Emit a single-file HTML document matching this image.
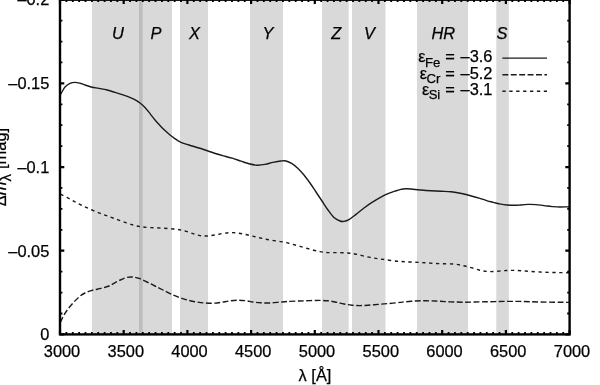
<!DOCTYPE html>
<html><head><meta charset="utf-8"><title>plot</title>
<style>
html,body{margin:0;padding:0;background:#fff;}
body{width:600px;height:385px;overflow:hidden;}
svg{display:block;will-change:transform;}
text{font-family:"Liberation Sans",sans-serif;font-size:16.4px;fill:#000;stroke:#000;stroke-width:0.25px;}
.i{font-style:italic;}
.s{font-size:13.1px;}
</style></head><body>
<svg width="600" height="385" viewBox="0 0 600 385">
<rect width="600" height="385" fill="#fff"/>
<g fill="#d9d9d9">
<rect x="91.9" y="-1" width="80.1" height="335.5"/>
<rect x="180" y="-1" width="28" height="335.5"/>
<rect x="250" y="-1" width="33" height="335.5"/>
<rect x="322" y="-1" width="26.7" height="335.5"/>
<rect x="352" y="-1" width="33.5" height="335.5"/>
<rect x="417" y="-1" width="51" height="335.5"/>
<rect x="496.3" y="-1" width="12.5" height="335.5"/>
</g>
<rect x="139" y="-1" width="3.7" height="335.5" fill="#bdbdbd"/>
<g class="i">
<text x="112" y="38.8">U</text>
<text x="150.5" y="38.8">P</text>
<text x="189" y="38.8">X</text>
<text x="262.5" y="38.8">Y</text>
<text x="331.3" y="38.8">Z</text>
<text x="364" y="38.8">V</text>
<text x="431.5" y="38.8">HR</text>
<text x="496.5" y="38.8">S</text>
</g>
<g fill="none" stroke="#1a1a1a" stroke-width="1.4">
<path d="M60.5 94.5C60.6 94.3 60.2 94.8 61.0 93.6C61.8 92.3 63.5 88.7 65.0 87.0C66.5 85.3 68.3 84.2 70.0 83.4C71.7 82.6 73.3 82.4 75.0 82.4C76.7 82.4 78.3 82.8 80.0 83.2C81.7 83.6 83.0 84.3 85.0 85.0C87.0 85.7 89.7 86.6 92.0 87.2C94.3 87.8 96.5 87.9 99.0 88.4C101.5 88.9 104.3 89.3 107.0 90.0C109.7 90.7 112.3 91.6 115.0 92.4C117.7 93.2 120.3 93.9 123.0 94.8C125.7 95.7 128.7 96.8 131.0 97.8C133.3 98.8 135.5 99.9 137.0 100.8C138.5 101.7 138.7 101.9 140.0 103.0C141.3 104.1 143.3 105.7 145.0 107.5C146.7 109.3 148.3 111.5 150.0 113.6C151.7 115.7 153.3 118.0 155.0 120.0C156.7 122.0 158.3 123.7 160.0 125.5C161.7 127.3 163.3 129.0 165.0 130.6C166.7 132.2 168.4 133.7 170.0 135.0C171.6 136.3 172.8 137.2 174.5 138.3C176.2 139.4 177.6 140.7 180.0 141.8C182.4 142.9 185.8 144.0 189.0 145.0C192.2 146.0 195.8 147.0 199.0 148.0C202.2 149.0 205.0 150.0 208.0 151.0C211.0 152.0 214.2 153.1 217.0 154.0C219.8 154.9 222.3 155.5 225.0 156.2C227.7 156.9 230.3 157.6 233.0 158.4C235.7 159.2 238.3 160.3 241.0 161.2C243.7 162.1 246.3 163.1 249.0 163.8C251.7 164.5 254.3 165.1 257.0 165.2C259.7 165.3 262.3 164.9 265.0 164.4C267.7 163.9 270.3 163.0 273.0 162.4C275.7 161.8 278.8 161.2 281.0 161.0C283.2 160.8 284.2 160.6 286.0 161.0C287.8 161.4 290.0 162.4 292.0 163.6C294.0 164.8 296.0 166.5 298.0 168.4C300.0 170.3 302.0 172.6 304.0 175.0C306.0 177.4 308.0 180.2 310.0 183.0C312.0 185.8 314.0 189.0 316.0 192.0C318.0 195.0 320.0 198.0 322.0 201.0C324.0 204.0 326.0 207.2 328.0 210.0C330.0 212.8 332.0 215.8 334.0 217.6C336.0 219.4 338.3 220.4 340.0 221.0C341.7 221.6 342.5 221.6 344.0 221.4C345.5 221.2 347.0 220.8 349.0 219.6C351.0 218.4 353.5 216.3 356.0 214.4C358.5 212.5 361.3 210.0 364.0 208.0C366.7 206.0 369.3 204.1 372.0 202.4C374.7 200.7 377.3 199.1 380.0 197.6C382.7 196.1 385.5 194.7 388.0 193.6C390.5 192.5 393.0 191.9 395.0 191.2C397.0 190.5 398.2 190.0 400.0 189.6C401.8 189.2 403.8 188.9 406.0 188.8C408.2 188.7 410.5 189.0 413.0 189.2C415.5 189.4 418.0 189.7 421.0 190.0C424.0 190.3 427.7 190.6 431.0 190.8C434.3 191.0 437.7 191.0 441.0 191.2C444.3 191.4 448.0 191.5 451.0 191.8C454.0 192.1 456.3 192.5 459.0 193.0C461.7 193.5 464.3 194.1 467.0 194.8C469.7 195.5 472.3 196.2 475.0 197.0C477.7 197.8 480.3 198.6 483.0 199.4C485.7 200.2 488.3 201.1 491.0 201.8C493.7 202.5 496.3 203.3 499.0 203.8C501.7 204.3 504.3 204.8 507.0 205.0C509.7 205.2 512.8 205.3 515.0 205.3C517.2 205.3 517.8 205.2 520.0 205.0C522.2 204.8 525.3 204.5 528.0 204.4C530.7 204.3 533.3 204.4 536.0 204.6C538.7 204.8 541.3 205.3 544.0 205.6C546.7 205.9 549.3 206.4 552.0 206.6C554.7 206.8 557.1 207.0 560.0 207.0C562.9 207.0 567.9 206.8 569.5 206.8"/>
<path d="M60.5 194.1C62.2 195.0 67.6 197.8 71.0 199.6C74.4 201.4 77.5 203.3 81.0 205.0C84.5 206.7 88.3 208.4 92.0 210.0C95.7 211.6 99.5 213.1 103.0 214.4C106.5 215.7 109.7 216.8 113.0 218.0C116.3 219.2 119.7 220.4 123.0 221.6C126.3 222.8 130.0 224.1 133.0 225.0C136.0 225.9 138.0 226.4 141.0 226.8C144.0 227.2 147.3 227.4 151.0 227.6C154.7 227.8 158.8 227.9 163.0 228.2C167.2 228.5 172.3 228.7 176.0 229.2C179.7 229.7 182.2 230.3 185.0 231.0C187.8 231.7 190.5 232.8 193.0 233.6C195.5 234.4 197.7 235.2 200.0 235.6C202.3 236.0 204.5 236.1 207.0 236.0C209.5 235.9 212.3 235.4 215.0 235.0C217.7 234.6 220.3 233.8 223.0 233.4C225.7 233.0 228.3 232.6 231.0 232.6C233.7 232.6 236.3 232.8 239.0 233.2C241.7 233.6 244.3 234.2 247.0 234.8C249.7 235.4 252.3 236.2 255.0 236.8C257.7 237.4 260.3 238.0 263.0 238.6C265.7 239.2 268.0 239.7 271.0 240.2C274.0 240.7 277.8 241.0 281.0 241.6C284.2 242.2 286.8 242.8 290.0 243.6C293.2 244.4 296.7 245.5 300.0 246.4C303.3 247.3 306.7 248.3 310.0 249.2C313.3 250.1 317.0 251.0 320.0 251.6C323.0 252.2 325.0 252.4 328.0 252.6C331.0 252.8 334.7 252.5 338.0 252.6C341.3 252.7 345.0 252.7 348.0 253.0C351.0 253.3 353.0 253.6 356.0 254.2C359.0 254.8 362.7 255.9 366.0 256.6C369.3 257.3 372.7 257.9 376.0 258.4C379.3 258.9 382.5 259.3 386.0 259.8C389.5 260.3 393.8 260.9 397.0 261.2C400.2 261.5 402.0 261.6 405.0 261.8C408.0 262.0 411.7 262.0 415.0 262.2C418.3 262.4 421.7 262.6 425.0 262.8C428.3 263.0 431.7 263.2 435.0 263.4C438.3 263.6 441.7 263.7 445.0 263.8C448.3 263.9 452.0 263.9 455.0 264.2C458.0 264.5 460.3 265.0 463.0 265.6C465.7 266.2 468.3 266.9 471.0 267.6C473.7 268.3 476.7 269.4 479.0 270.0C481.3 270.6 483.0 270.9 485.0 271.2C487.0 271.5 488.7 271.6 491.0 271.6C493.3 271.6 496.3 271.3 499.0 271.1C501.7 270.9 504.5 270.6 507.0 270.5C509.5 270.4 511.5 270.3 514.0 270.4C516.5 270.4 519.3 270.6 522.0 270.8C524.7 271.0 527.0 271.2 530.0 271.4C533.0 271.6 536.7 271.8 540.0 272.0C543.3 272.2 546.7 272.3 550.0 272.4C553.3 272.5 556.8 272.5 560.0 272.6C563.2 272.7 567.9 272.8 569.5 272.8" stroke-dasharray="3.3 3.6"/>
<path d="M60.5 322.5C60.6 322.2 60.4 322.2 61.0 321.0C61.6 319.8 62.8 317.0 64.0 315.0C65.2 313.0 66.5 311.0 68.0 309.0C69.5 307.0 71.2 305.0 73.0 303.0C74.8 301.0 77.0 298.7 79.0 297.0C81.0 295.3 82.8 294.1 85.0 293.0C87.2 291.9 89.3 291.2 92.0 290.4C94.7 289.6 98.2 289.1 101.0 288.4C103.8 287.7 106.3 287.1 109.0 286.0C111.7 284.9 114.3 282.9 117.0 281.6C119.7 280.3 122.5 278.8 125.0 278.0C127.5 277.2 129.7 276.9 132.0 277.0C134.3 277.1 136.5 277.6 139.0 278.4C141.5 279.2 144.3 280.7 147.0 282.0C149.7 283.3 152.3 284.7 155.0 286.0C157.7 287.3 160.0 288.5 163.0 290.0C166.0 291.5 170.0 293.7 173.0 295.0C176.0 296.3 178.3 297.1 181.0 298.0C183.7 298.9 186.3 299.7 189.0 300.4C191.7 301.1 194.3 301.6 197.0 302.0C199.7 302.4 202.3 302.8 205.0 303.0C207.7 303.2 210.3 303.3 213.0 303.2C215.7 303.1 218.3 302.8 221.0 302.4C223.7 302.0 226.3 301.4 229.0 301.0C231.7 300.6 234.3 300.3 237.0 300.2C239.7 300.1 242.3 300.3 245.0 300.6C247.7 300.9 250.3 301.6 253.0 302.0C255.7 302.4 258.3 302.6 261.0 302.8C263.7 303.0 266.3 303.1 269.0 303.0C271.7 302.9 274.3 302.6 277.0 302.4C279.7 302.2 282.8 301.9 285.0 301.7C287.2 301.5 287.5 301.5 290.0 301.4C292.5 301.3 296.7 301.1 300.0 301.0C303.3 300.9 306.7 300.7 310.0 300.6C313.3 300.5 317.0 300.4 320.0 300.4C323.0 300.4 325.3 300.5 328.0 300.8C330.7 301.1 333.3 301.7 336.0 302.2C338.7 302.7 341.3 303.5 344.0 304.0C346.7 304.5 349.3 304.9 352.0 305.2C354.7 305.5 357.3 305.6 360.0 305.6C362.7 305.6 365.0 305.4 368.0 305.2C371.0 305.0 374.7 304.7 378.0 304.4C381.3 304.1 384.3 303.9 388.0 303.6C391.7 303.3 397.2 302.7 400.0 302.4C402.8 302.1 402.5 302.0 405.0 301.8C407.5 301.6 411.7 301.2 415.0 301.0C418.3 300.8 421.7 300.8 425.0 300.8C428.3 300.8 431.7 300.9 435.0 301.0C438.3 301.1 441.7 301.4 445.0 301.6C448.3 301.8 451.7 301.9 455.0 302.0C458.3 302.1 461.7 302.2 465.0 302.2C468.3 302.2 471.7 302.1 475.0 302.0C478.3 301.9 481.7 301.9 485.0 301.8C488.3 301.7 491.7 301.7 495.0 301.6C498.3 301.5 500.8 301.4 505.0 301.4C509.2 301.4 514.2 301.3 520.0 301.4C525.8 301.5 531.8 301.8 540.0 302.0C548.2 302.2 564.6 302.3 569.5 302.4" stroke-dasharray="5.9 2.5"/>
<path d="M502.4 58.1H547"/>
<path d="M502.4 74.7H547" stroke-dasharray="5.9 2.5"/>
<path d="M502.4 91.3H547" stroke-dasharray="3.3 3.6"/>
</g>
<path d="M60.00 334.40v-4.3M60.00 -0.30v4.3M123.70 334.40v-4.3M123.70 -0.30v4.3M187.40 334.40v-4.3M187.40 -0.30v4.3M251.10 334.40v-4.3M251.10 -0.30v4.3M314.80 334.40v-4.3M314.80 -0.30v4.3M378.50 334.40v-4.3M378.50 -0.30v4.3M442.20 334.40v-4.3M442.20 -0.30v4.3M505.90 334.40v-4.3M505.90 -0.30v4.3M569.60 334.40v-4.3M569.60 -0.30v4.3M60.00 334.40h4.3M569.60 334.40h-4.3M60.00 250.72h4.3M569.60 250.72h-4.3M60.00 167.05h4.3M569.60 167.05h-4.3M60.00 83.38h4.3M569.60 83.38h-4.3M60.00 -0.30h4.3M569.60 -0.30h-4.3" stroke="#000" stroke-width="2.2" fill="none"/>
<path d="M66.37 334.40v-2.4M66.37 -0.30v2.4M72.74 334.40v-2.4M72.74 -0.30v2.4M79.11 334.40v-2.4M79.11 -0.30v2.4M85.48 334.40v-2.4M85.48 -0.30v2.4M91.85 334.40v-2.4M91.85 -0.30v2.4M98.22 334.40v-2.4M98.22 -0.30v2.4M104.59 334.40v-2.4M104.59 -0.30v2.4M110.96 334.40v-2.4M110.96 -0.30v2.4M117.33 334.40v-2.4M117.33 -0.30v2.4M130.07 334.40v-2.4M130.07 -0.30v2.4M136.44 334.40v-2.4M136.44 -0.30v2.4M142.81 334.40v-2.4M142.81 -0.30v2.4M149.18 334.40v-2.4M149.18 -0.30v2.4M155.55 334.40v-2.4M155.55 -0.30v2.4M161.92 334.40v-2.4M161.92 -0.30v2.4M168.29 334.40v-2.4M168.29 -0.30v2.4M174.66 334.40v-2.4M174.66 -0.30v2.4M181.03 334.40v-2.4M181.03 -0.30v2.4M193.77 334.40v-2.4M193.77 -0.30v2.4M200.14 334.40v-2.4M200.14 -0.30v2.4M206.51 334.40v-2.4M206.51 -0.30v2.4M212.88 334.40v-2.4M212.88 -0.30v2.4M219.25 334.40v-2.4M219.25 -0.30v2.4M225.62 334.40v-2.4M225.62 -0.30v2.4M231.99 334.40v-2.4M231.99 -0.30v2.4M238.36 334.40v-2.4M238.36 -0.30v2.4M244.73 334.40v-2.4M244.73 -0.30v2.4M257.47 334.40v-2.4M257.47 -0.30v2.4M263.84 334.40v-2.4M263.84 -0.30v2.4M270.21 334.40v-2.4M270.21 -0.30v2.4M276.58 334.40v-2.4M276.58 -0.30v2.4M282.95 334.40v-2.4M282.95 -0.30v2.4M289.32 334.40v-2.4M289.32 -0.30v2.4M295.69 334.40v-2.4M295.69 -0.30v2.4M302.06 334.40v-2.4M302.06 -0.30v2.4M308.43 334.40v-2.4M308.43 -0.30v2.4M321.17 334.40v-2.4M321.17 -0.30v2.4M327.54 334.40v-2.4M327.54 -0.30v2.4M333.91 334.40v-2.4M333.91 -0.30v2.4M340.28 334.40v-2.4M340.28 -0.30v2.4M346.65 334.40v-2.4M346.65 -0.30v2.4M353.02 334.40v-2.4M353.02 -0.30v2.4M359.39 334.40v-2.4M359.39 -0.30v2.4M365.76 334.40v-2.4M365.76 -0.30v2.4M372.13 334.40v-2.4M372.13 -0.30v2.4M384.87 334.40v-2.4M384.87 -0.30v2.4M391.24 334.40v-2.4M391.24 -0.30v2.4M397.61 334.40v-2.4M397.61 -0.30v2.4M403.98 334.40v-2.4M403.98 -0.30v2.4M410.35 334.40v-2.4M410.35 -0.30v2.4M416.72 334.40v-2.4M416.72 -0.30v2.4M423.09 334.40v-2.4M423.09 -0.30v2.4M429.46 334.40v-2.4M429.46 -0.30v2.4M435.83 334.40v-2.4M435.83 -0.30v2.4M448.57 334.40v-2.4M448.57 -0.30v2.4M454.94 334.40v-2.4M454.94 -0.30v2.4M461.31 334.40v-2.4M461.31 -0.30v2.4M467.68 334.40v-2.4M467.68 -0.30v2.4M474.05 334.40v-2.4M474.05 -0.30v2.4M480.42 334.40v-2.4M480.42 -0.30v2.4M486.79 334.40v-2.4M486.79 -0.30v2.4M493.16 334.40v-2.4M493.16 -0.30v2.4M499.53 334.40v-2.4M499.53 -0.30v2.4M512.27 334.40v-2.4M512.27 -0.30v2.4M518.64 334.40v-2.4M518.64 -0.30v2.4M525.01 334.40v-2.4M525.01 -0.30v2.4M531.38 334.40v-2.4M531.38 -0.30v2.4M537.75 334.40v-2.4M537.75 -0.30v2.4M544.12 334.40v-2.4M544.12 -0.30v2.4M550.49 334.40v-2.4M550.49 -0.30v2.4M556.86 334.40v-2.4M556.86 -0.30v2.4M563.23 334.40v-2.4M563.23 -0.30v2.4M60.00 313.48h2.4M569.60 313.48h-2.4M60.00 292.56h2.4M569.60 292.56h-2.4M60.00 271.64h2.4M569.60 271.64h-2.4M60.00 229.81h2.4M569.60 229.81h-2.4M60.00 208.89h2.4M569.60 208.89h-2.4M60.00 187.97h2.4M569.60 187.97h-2.4M60.00 146.13h2.4M569.60 146.13h-2.4M60.00 125.21h2.4M569.60 125.21h-2.4M60.00 104.29h2.4M569.60 104.29h-2.4M60.00 62.46h2.4M569.60 62.46h-2.4M60.00 41.54h2.4M569.60 41.54h-2.4M60.00 20.62h2.4M569.60 20.62h-2.4" stroke="#000" stroke-width="1.8" fill="none"/>
<rect x="60.0" y="-0.3" width="509.6" height="334.7" fill="none" stroke="#000" stroke-width="2.4"/>
<g text-anchor="end">
<text x="492.5" y="62.2">ε<tspan class="s" dy="4.3" dx="-0.6">Fe</tspan><tspan dy="-4.3" dx="0.3"> =</tspan><tspan dx="1.3"> –3.6</tspan></text>
<text x="492.5" y="78.6">ε<tspan class="s" dy="4.3" dx="-0.6">Cr</tspan><tspan dy="-4.3" dx="0.3"> =</tspan><tspan dx="1.3"> –5.2</tspan></text>
<text x="492.5" y="95">ε<tspan class="s" dy="4.3" dx="-0.6">Si</tspan><tspan dy="-4.3" dx="0.3"> =</tspan><tspan dx="1.3"> –3.1</tspan></text>
<text x="49.3" y="89">–0.15</text>
<text x="49.3" y="5.2">–0.2</text>
<text x="49.3" y="172.7">–0.1</text>
<text x="49.3" y="256.5">–0.05</text>
<text x="49.3" y="340.2">0</text>
</g>
<g text-anchor="middle">
<text x="62.0" y="357.2">3000</text>
<text x="125.8" y="357.2">3500</text>
<text x="189.5" y="357.2">4000</text>
<text x="253.2" y="357.2">4500</text>
<text x="317.0" y="357.2">5000</text>
<text x="380.8" y="357.2">5500</text>
<text x="444.5" y="357.2">6000</text>
<text x="508.2" y="357.2">6500</text>
<text x="572.0" y="357.2">7000</text>
<text x="315" y="380.7">λ [Å]</text>
</g>
<text transform="translate(5.5 206.2) rotate(-90)">Δ<tspan class="i">m</tspan><tspan style="font-size:15px" dy="5.3">λ</tspan><tspan dy="-5.3" dx="0.6"> [mag]</tspan></text>
</svg>
</body></html>
